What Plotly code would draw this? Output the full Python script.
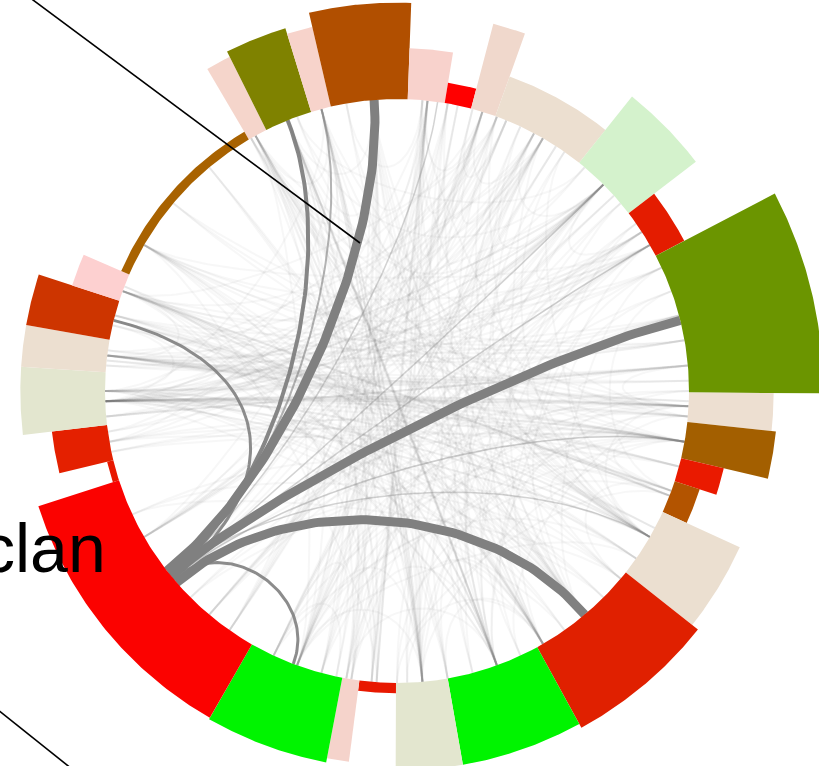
import numpy as np
import plotly.graph_objects as go

# ---------------- data ----------------
# outer ring segments: angle (deg, clockwise from top), bar height above the inner circle (radius 1)
seg_start = [329.5, 333.4, 342.9, 346.9, 2.1, 9.4, 14.7, 19.7, 38.6, 52.5, 62.4, 90.3, 96.1,
             103.3, 108.0, 114.5, 128.4, 151.3, 170.0, 180.2, 187.4, 190.8, 209.8, 252.2,
             256.3, 263.3, 273.7, 280.1, 288.0, 293.5]
seg_end = [333.4, 342.9, 346.9, 362.1, 9.4, 14.7, 19.7, 38.6, 52.5, 62.4, 90.3, 96.1, 103.3,
           108.0, 114.5, 128.4, 151.3, 170.0, 180.2, 187.4, 190.8, 209.8, 252.2, 256.3,
           263.3, 273.7, 280.1, 288.0, 293.5, 329.5]
seg_value = [0.28, 0.30, 0.28, 0.33, 0.175, 0.07, 0.30, 0.144, 0.29, 0.11, 0.46, 0.29, 0.305,
             0.15, 0.09, 0.29, 0.315, 0.30, 0.30, 0.035, 0.28, 0.295, 0.29, 0.022,
             0.19, 0.29, 0.29, 0.29, 0.17, 0.03]
seg_color = ["#f5d5cb", "#7f8200", "#f7d3cb", "#b14f00", "#f8d2cc", "#ff0000", "#f0d8cc",
             "#ecdfd0", "#d4f2cc", "#e41c00", "#6b9500", "#eddfd1", "#a35f00", "#ea1a00",
             "#b35400", "#ebdfd0", "#e02000", "#00f400", "#e3e6cf", "#e81800", "#f5d3cb",
             "#00f400", "#fb0200", "#e81800", "#e42000", "#e3e6cf", "#ecdfd0", "#cd3500",
             "#fdd0d0", "#a86200"]

# strong links from the hub node
hub_from = [232, 231, 229, 231, 230, 230, 231, 231, 230, 230, 231, 230]
hub_to = [355.5, 76, 140, 338, 284, 200.8, 345, 8, 45, 100, 120, 60]
hub_width = [9, 9, 9, 4, 3, 3, 2, 1.5, 1.5, 1.5, 1.5, 1.5]
hub_alpha = [1, 1, 1, 0.95, 0.9, 0.9, 0.6, 0.35, 0.35, 0.35, 0.35, 0.35]
hub_bundling = [0.5, 0.5, 0.5, 0.5, 0.45, 0.75, 0.5, 0.5, 0.5, 0.5, 0.5, 0.5]

# faint background links
faint_a = [268, 268, 268, 268, 268, 270, 277, 277, 277, 277, 284, 284, 290, 290, 290, 291,
           331, 331, 331, 331, 338, 338, 345, 345, 345, 355, 355, 6, 6, 6, 12, 17, 17, 22,
           28, 33, 35, 45, 45, 45, 48, 57, 57, 75, 80, 85, 93, 93, 93, 100, 100, 105, 111,
           111, 120, 120, 120, 125, 140, 140, 140, 145, 160, 160, 160, 160, 165, 175, 175,
           175, 175, 184, 184, 189, 189, 195, 200, 205, 215, 220, 225, 240, 245, 258, 260,
           300, 310, 320, 160, 175, 150, 331, 338, 6, 17, 28, 45, 85, 100, 270, 277, 93,
           268, 40, 70, 110, 150, 192, 350, 15, 30, 55, 65, 88, 118, 135, 155, 265, 275]
faint_b = [95, 100, 120, 60, 45, 140, 92, 105, 30, 75, 110, 150, 80, 20, 125, 160, 170, 200,
           140, 95, 160, 185, 175, 120, 268, 190, 150, 200, 175, 240, 185, 215, 270, 230,
           262, 205, 120, 268, 240, 278, 220, 265, 195, 230, 285, 270, 268, 300, 200, 277,
           230, 260, 290, 180, 268, 330, 5, 200, 300, 355, 20, 268, 338, 10, 290, 60, 25,
           345, 330, 50, 100, 300, 6, 338, 45, 355, 30, 100, 10, 60, 90, 30, 130, 100, 20,
           60, 100, 150, 190, 200, 178, 345, 355, 17, 28, 45, 57, 93, 111, 283, 290, 120,
           93, 340, 110, 130, 170, 205, 5, 22, 150, 160, 140, 276, 285, 270, 95, 85, 65]
faint_bundling = [0.5, 0.3, 0.7]

# annotation leader lines (data units) and label
lead_x0 = [-1.303, -1.40]
lead_y0 = [1.381, -1.065]
lead_x1 = [-0.1267, -1.10]
lead_y1 = [0.5068, -1.305]
label_text = "clan"

# ---------------- geometry helpers ----------------
CX, CY, RPX = 397.0, 391.0, 292.0  # centre and inner radius in pixels
W, H = 819, 766


def arc_polygon(t0, t1, r_in, r_out, n=60):
    th = np.radians(np.linspace(t0, t1, n))
    xo, yo = r_out * np.sin(th), r_out * np.cos(th)
    xi, yi = r_in * np.sin(th[::-1]), r_in * np.cos(th[::-1])
    x = np.concatenate([xo, xi, xo[:1]])
    y = np.concatenate([yo, yi, yo[:1]])
    return x, y


def link(ta, tb, rho=0.5, n=80):
    a, b = np.radians(ta), np.radians(tb)
    p0 = np.array([np.sin(a), np.cos(a)])
    p3 = np.array([np.sin(b), np.cos(b)])
    p1, p2 = rho * p0, rho * p3
    t = np.linspace(0, 1, n)[:, None]
    pts = (1 - t) ** 3 * p0 + 3 * (1 - t) ** 2 * t * p1 + 3 * (1 - t) * t ** 2 * p2 + t ** 3 * p3
    return pts[:, 0], pts[:, 1]


fig = go.Figure()

# faint links
for rho in faint_bundling:
    for a, b in zip(faint_a, faint_b):
        x, y = link(a, b, rho)
        fig.add_trace(go.Scatter(x=x, y=y, mode="lines", hoverinfo="skip",
                                 line=dict(color="rgba(110,110,110,0.055)", width=2)))

# hub links (thin first, thick last)
order = np.argsort(hub_width, kind="stable")
for i in order:
    x, y = link(hub_from[i], hub_to[i], hub_bundling[i])
    fig.add_trace(go.Scatter(x=x, y=y, mode="lines", hoverinfo="skip",
                             line=dict(color="rgba(128,128,128,%.2f)" % hub_alpha[i],
                                       width=hub_width[i])))

# ring segments
for t0, t1, v, c in zip(seg_start, seg_end, seg_value, seg_color):
    x, y = arc_polygon(t0, t1, 1.0, 1.0 + v)
    fig.add_trace(go.Scatter(x=x, y=y, mode="lines", fill="toself", fillcolor=c,
                             line=dict(width=0, color=c), hoverinfo="skip"))

shapes = []
for x0, y0, x1, y1 in zip(lead_x0, lead_y0, lead_x1, lead_y1):
    shapes.append(dict(type="line", xref="x", yref="y", x0=x0, y0=y0, x1=x1, y1=y1,
                       line=dict(color="black", width=1.6), layer="above"))

fig.add_annotation(x=(108 - CX) / RPX, y=(CY - 548) / RPX, xref="x", yref="y",
                   text=label_text, showarrow=False, xanchor="right", yanchor="middle",
                   font=dict(family="Liberation Sans, Arial, sans-serif", size=68, color="black"))

fig.update_layout(
    width=W, height=H, autosize=False,
    margin=dict(l=0, r=0, t=0, b=0, pad=0),
    paper_bgcolor="white", plot_bgcolor="white",
    showlegend=False, shapes=shapes,
    xaxis=dict(range=[-CX / RPX, (W - CX) / RPX], visible=False, fixedrange=True),
    yaxis=dict(range=[-(H - CY) / RPX, CY / RPX], visible=False, fixedrange=True),
)

fig.write_html("out.html", config={"displayModeBar": False},
               post_script="document.body.style.margin='0';document.body.style.overflow='hidden';")
